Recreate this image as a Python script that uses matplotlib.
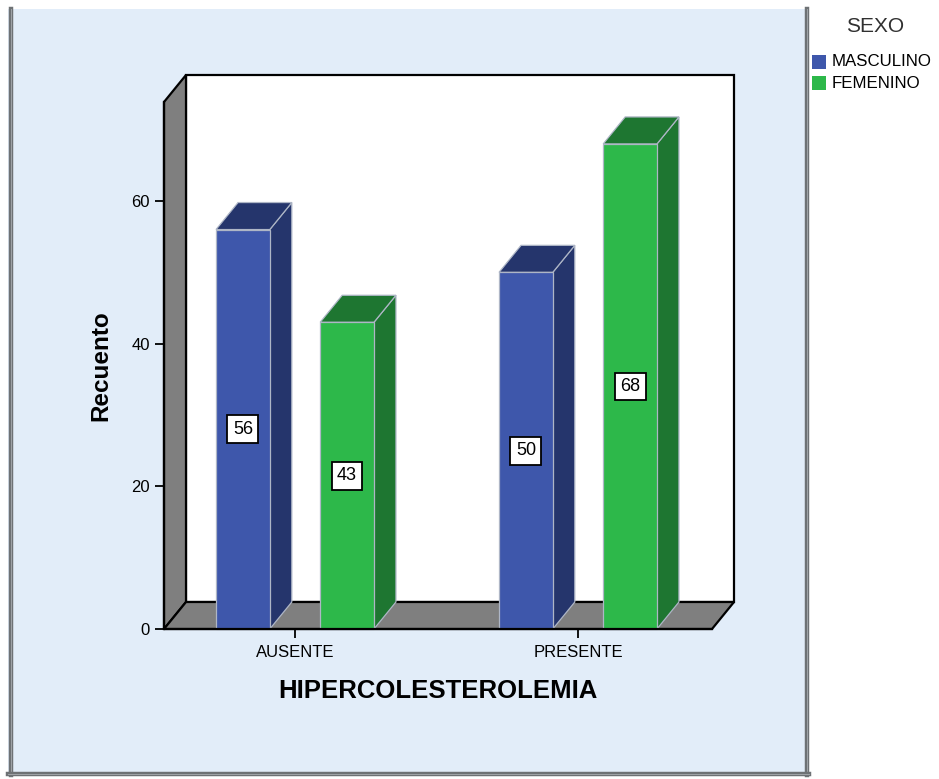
import matplotlib
matplotlib.use("Agg")
import matplotlib.pyplot as plt
from matplotlib.patches import Polygon, Rectangle
from matplotlib.lines import Line2D
import numpy as np

plt.rcParams['font.family'] = ['Liberation Sans', 'DejaVu Sans']

# data
categories = ['AUSENTE', 'PRESENTE']
series = ['MASCULINO', 'FEMENINO']
masculino = [56, 50]
femenino = [43, 68]
yticks = [0, 20, 40, 60]

front_colors = ['#3E57AB', '#2DB84A']
side_colors = ['#25356C', '#1E7631']
wall_color = '#7F7F7F'
panel_color = '#E2EDF9'

W, H = 939, 779
fig = plt.figure(figsize=(W / 100, H / 100), dpi=100)
fig.patch.set_facecolor('white')

# light blue chart panel with grey frame on left, right and bottom
panel = Rectangle((8 / W, 1 - 775 / H), 801 / W, 766 / H, transform=fig.transFigure,
                  facecolor=panel_color, edgecolor='none', zorder=-3)
fig.patches.append(panel)
for xs, ys in [((10.5, 10.5), (9, 775)), ((806.5, 806.5), (9, 775)), ((8, 809), (773.5, 773.5))]:
    fig.lines.append(Line2D([x / W for x in xs], [1 - y / H for y in ys], transform=fig.transFigure,
                            color='#6E7275', lw=3.2, zorder=-2))
    fig.lines.append(Line2D([x / W for x in xs], [1 - y / H for y in ys], transform=fig.transFigure,
                            color='#A0A4A8', lw=0.7, zorder=-2))

ax_l, ax_r, ax_t, ax_b = 164, 712, 102, 629
ax = fig.add_axes([ax_l / W, 1 - ax_b / H, (ax_r - ax_l) / W, (ax_b - ax_t) / H])
ax.patch.set_alpha(0)
x0, x1 = -0.4629, 1.4735
y0, y1 = 0, 73.88
ax.set_xlim(x0, x1)
ax.set_ylim(y0, y1)

# depth of the 3D effect, converted from pixels to data units
px_x = (ax_r - ax_l) / (x1 - x0)
px_y = (ax_b - ax_t) / (y1 - y0)
ddx = 22 / px_x
ddy = 27 / px_y

def shift(pts):
    return [(x + ddx, y + ddy) for x, y in pts]

# back wall, left wall and floor
ax.add_patch(Polygon(shift([(x0, y0), (x1, y0), (x1, y1), (x0, y1)]), closed=True,
                     facecolor='white', edgecolor='black', lw=1.6, zorder=1, clip_on=False))
ax.add_patch(Polygon([(x0, y0), (x0, y1)] + shift([(x0, y1), (x0, y0)]), closed=True,
                     facecolor=wall_color, edgecolor='black', lw=1.6, zorder=1, clip_on=False))
ax.add_patch(Polygon([(x0, y0), (x1, y0)] + shift([(x1, y0), (x0, y0)]), closed=True,
                     facecolor=wall_color, edgecolor='black', lw=1.6, zorder=1, clip_on=False))

# 3D bars
width = 0.19
offset = 0.184
x = np.arange(len(categories))
edge = '#AEB6C6'
for i, (vals, fc, sc) in enumerate(zip([masculino, femenino], front_colors, side_colors)):
    pos = x + (i * 2 - 1) * offset
    ax.bar(pos, vals, width, color=fc, edgecolor=edge, linewidth=0.9, zorder=3, clip_on=False)
    for p, v in zip(pos, vals):
        l, r = p - width / 2, p + width / 2
        ax.add_patch(Polygon([(r, 0), (r, v)] + shift([(r, v), (r, 0)]), closed=True,
                             facecolor=sc, edgecolor=edge, lw=0.9, zorder=2.5, clip_on=False))
        ax.add_patch(Polygon([(l, v), (r, v)] + shift([(r, v), (l, v)]), closed=True,
                             facecolor=sc, edgecolor=edge, lw=0.9, zorder=2.5, clip_on=False))
        ax.text(p, v / 2, str(v), ha='center', va='center', fontsize=13, zorder=5,
                bbox=dict(boxstyle='square,pad=0.3', facecolor='white', edgecolor='black', lw=1.3))

# axes lines and ticks
for side in ['top', 'right']:
    ax.spines[side].set_visible(False)
for side in ['left', 'bottom']:
    ax.spines[side].set_linewidth(1.6)
    ax.spines[side].set_zorder(4)
ax.set_yticks(yticks)
ax.set_xticks(x)
ax.set_xticklabels(categories)
ax.tick_params(axis='both', length=6.5, width=1.3, labelsize=12, colors='black')
ax.tick_params(axis='y', pad=3.5)
ax.tick_params(axis='x', pad=5)

ax.set_xlabel('HIPERCOLESTEROLEMIA', fontsize=18.5, fontweight='bold', labelpad=14)
ax.set_ylabel('Recuento', fontsize=17.5, fontweight='bold', labelpad=14)

# legend
fig.text(875 / W, 1 - 27 / H, 'SEXO', ha='center', va='center', fontsize=15, color='#303030')
for k, (name, fc) in enumerate(zip(series, front_colors)):
    yc = 62 + k * 21
    fig.patches.append(Rectangle((812 / W, 1 - (yc + 7) / H), 14 / W, 14 / H,
                                 transform=fig.transFigure, facecolor=fc, edgecolor='none'))
    fig.text(832 / W, 1 - yc / H, name, ha='left', va='center', fontsize=12.2, color='black')

fig.savefig('out.png', dpi=100)
